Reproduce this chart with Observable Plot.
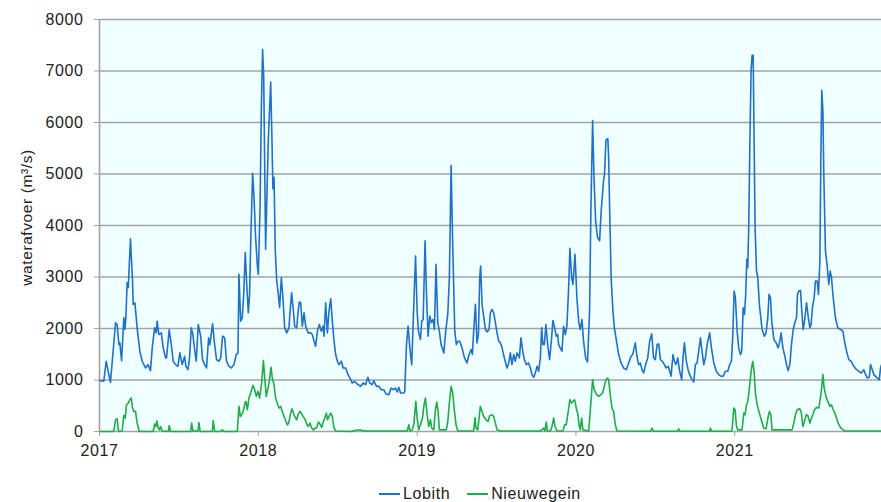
<!DOCTYPE html>
<html>
<head>
<meta charset="utf-8">
<script src="https://cdn.jsdelivr.net/npm/d3@7"></script>
<script src="https://cdn.jsdelivr.net/npm/@observablehq/plot@0.6"></script>
<style>
  html, body { margin: 0; padding: 0; background: #ffffff; }
  #wrap { position: relative; width: 881px; height: 502px; overflow: hidden; font-family: "Liberation Sans", Arial, sans-serif; }
  #legend { position: absolute; left: 379px; top: 484px; display: flex; align-items: center; font-size: 16px; letter-spacing: 0.6px; line-height: 20px; color: #222; white-space: nowrap; }
  #legend .sw { display: inline-block; width: 21px; height: 2px; }
  #legend .lb { margin-left: 3px; margin-right: 17px; }
  #chart svg text { letter-spacing: 0.6px; }
</style>
</head>
<body>
<div id="wrap"><div id="chart"></div><div id="legend"></div></div>
<script>
const seriesNames = ["Lobith", "Nieuwegein"];
const seriesColors = ["#1f72c6", "#20ac4a"];
const yearTicks = [2017, 2018, 2019, 2020, 2021];
const valueTicks = [0, 1000, 2000, 3000, 4000, 5000, 6000, 7000, 8000];
const yLabel = "waterafvoer (m³/s)";
const xEnd = 2021.924;

// [decimal year, m3/s]
const lobith = [
[2017.000,990],[2017.027,975],[2017.042,1364],[2017.069,955],[2017.101,2111],[2017.111,2078],[2017.122,1688],[2017.128,1721],[2017.139,1377],[2017.153,2208],[2017.160,1980],[2017.166,2208],[2017.174,2890],[2017.181,2792],[2017.195,3740],[2017.208,2922],[2017.212,2468],[2017.223,2500],[2017.237,2013],[2017.254,1559],[2017.269,1364],[2017.290,1234],[2017.305,1299],[2017.321,1182],[2017.332,1624],[2017.347,2013],[2017.357,1916],[2017.363,2143],[2017.374,1883],[2017.389,1916],[2017.401,1624],[2017.416,1429],[2017.422,1429],[2017.439,1980],[2017.452,1688],[2017.464,1364],[2017.479,1299],[2017.494,1266],[2017.506,1526],[2017.521,1299],[2017.536,1461],[2017.544,1266],[2017.557,1201],[2017.567,1429],[2017.578,2013],[2017.588,1883],[2017.599,1591],[2017.609,1364],[2017.622,2078],[2017.637,1851],[2017.649,1396],[2017.662,1299],[2017.674,1234],[2017.687,1818],[2017.695,1688],[2017.712,2091],[2017.725,1688],[2017.737,1396],[2017.752,1364],[2017.763,1429],[2017.775,1851],[2017.788,1818],[2017.800,1364],[2017.815,1266],[2017.830,1234],[2017.847,1299],[2017.861,1494],[2017.872,1526],[2017.878,3052],[2017.889,2143],[2017.899,2208],[2017.908,2663],[2017.918,3474],[2017.926,2922],[2017.937,2305],[2017.945,2663],[2017.952,3637],[2017.964,5013],[2017.973,4546],[2017.983,3767],[2017.994,3215],[2018.000,3052],[2018.011,4351],[2018.019,6234],[2018.027,7416],[2018.034,6883],[2018.046,3539],[2018.057,4935],[2018.063,5650],[2018.078,6786],[2018.086,5650],[2018.092,4708],[2018.099,4935],[2018.107,3507],[2018.116,2922],[2018.126,2663],[2018.134,2403],[2018.145,2987],[2018.155,2598],[2018.166,2013],[2018.179,1916],[2018.193,2013],[2018.200,2338],[2018.210,2695],[2018.221,2338],[2018.229,2046],[2018.242,2013],[2018.250,2305],[2018.258,2513],[2018.267,2500],[2018.277,2046],[2018.288,2305],[2018.298,2046],[2018.313,1916],[2018.330,1916],[2018.340,1883],[2018.351,1753],[2018.361,1656],[2018.372,1948],[2018.384,2078],[2018.397,1948],[2018.408,2046],[2018.414,1851],[2018.424,2500],[2018.435,1916],[2018.445,2338],[2018.456,2578],[2018.466,2143],[2018.477,1753],[2018.487,1494],[2018.498,1364],[2018.508,1299],[2018.523,1364],[2018.534,1234],[2018.550,1234],[2018.565,1104],[2018.582,1007],
[2018.591,942],[2018.606,974],[2018.623,922],[2018.644,877],[2018.660,942],[2018.675,909],[2018.690,1052],[2018.702,942],[2018.717,909],[2018.727,987],[2018.744,877],[2018.759,877],[2018.774,812],[2018.790,812],[2018.805,727],[2018.822,714],[2018.836,844],[2018.849,812],[2018.864,844],[2018.874,766],[2018.885,857],[2018.895,747],[2018.916,747],[2018.922,779],[2018.933,1688],[2018.943,2045],[2018.954,1624],[2018.966,1299],[2018.979,2468],[2018.990,3409],[2019.000,2338],[2019.008,1948],[2019.021,1786],[2019.029,2143],[2019.038,2175],[2019.050,3702],[2019.059,2663],[2019.069,1851],[2019.080,2240],[2019.090,2111],[2019.101,2175],[2019.109,1980],[2019.119,3247],[2019.130,2111],[2019.140,1948],[2019.151,1688],[2019.168,1526],[2019.180,1948],[2019.193,2273],[2019.203,2987],[2019.214,5163],[2019.224,3637],[2019.237,1948],[2019.247,1688],[2019.256,1753],[2019.268,1753],[2019.283,1624],[2019.298,1429],[2019.314,1331],[2019.327,1494],[2019.340,1591],[2019.348,1494],[2019.356,1948],[2019.367,2468],[2019.377,1721],[2019.386,1883],[2019.394,2987],[2019.400,3215],[2019.409,2468],[2019.419,2240],[2019.430,1980],[2019.440,1935],[2019.453,1980],[2019.461,2305],[2019.472,2370],[2019.482,2305],[2019.493,2111],[2019.503,1916],[2019.514,1753],[2019.524,1721],[2019.535,1624],[2019.549,1429],[2019.566,1234],[2019.577,1331],[2019.587,1526],[2019.597,1299],[2019.608,1494],[2019.618,1364],[2019.629,1526],[2019.644,1429],[2019.654,1818],[2019.665,1559],[2019.675,1396],[2019.688,1299],[2019.702,1331],[2019.713,1234],[2019.723,1104],[2019.734,1052],[2019.744,1136],[2019.755,1266],[2019.765,1169],[2019.776,1429],[2019.784,2013],[2019.792,1688],[2019.801,1688],[2019.811,2078],[2019.822,1688],[2019.834,1396],[2019.845,1753],[2019.855,2156],[2019.866,2013],[2019.876,1851],[2019.885,1883],[2019.891,1688],[2019.901,1624],[2019.912,1559],[2019.922,2045],[2019.933,1883],[2019.943,2045],[2019.954,2792],[2019.962,3559],[2019.973,2987],[2019.981,2857],[2019.994,3442],[2020.006,2598],[2020.017,2143],[2020.027,1980],[2020.038,2175],[2020.048,1753],[2020.061,1429],[2020.073,1351],[2020.086,2338],[2020.094,4286],[2020.105,6039],[2020.115,4806],[2020.124,4091],[2020.136,3767],[2020.149,3702],[2020.159,4286],[2020.174,4871],[2020.180,5000],[2020.189,5650],[2020.195,5682],[2020.201,5682],[2020.206,5300],[2020.212,4351],[2020.222,2950],
[2020.233,2338],[2020.242,2013],[2020.254,1786],[2020.269,1494],[2020.284,1331],[2020.300,1234],[2020.317,1201],[2020.332,1331],[2020.347,1461],[2020.357,1494],[2020.374,1721],[2020.384,1461],[2020.395,1299],[2020.405,1331],[2020.416,1201],[2020.426,1136],[2020.439,1299],[2020.452,1429],[2020.464,1753],[2020.477,1896],[2020.489,1429],[2020.500,1396],[2020.511,1688],[2020.521,1701],[2020.532,1396],[2020.544,1364],[2020.557,1299],[2020.567,1234],[2020.580,1266],[2020.588,1201],[2020.599,1072],[2020.611,1494],[2020.620,1364],[2020.630,1299],[2020.641,1429],[2020.653,1169],[2020.666,1007],[2020.674,1429],[2020.683,1721],[2020.695,1364],[2020.706,1201],[2020.716,1104],[2020.731,1007],[2020.742,961],[2020.752,1299],[2020.763,1331],[2020.773,1559],[2020.784,1818],[2020.794,1559],[2020.805,1299],[2020.815,1429],[2020.826,1688],[2020.842,1916],[2020.853,1624],[2020.868,1331],[2020.884,1169],[2020.899,1104],[2020.914,1072],[2020.926,1072],[2020.941,1169],[2020.956,1169],[2020.968,1299],[2020.979,1364],[2020.987,1818],[2020.996,2727],[2021.004,2598],[2021.015,1948],[2021.025,1624],[2021.036,1494],[2021.044,1559],[2021.053,2403],[2021.061,2273],[2021.069,2663],[2021.076,3344],[2021.082,3182],[2021.088,3961],[2021.095,5585],[2021.103,7014],[2021.109,7306],[2021.116,7306],[2021.122,5585],[2021.128,3961],[2021.137,3117],[2021.145,2987],[2021.155,2468],[2021.172,1980],[2021.187,1851],[2021.197,1916],[2021.208,2208],[2021.216,2663],[2021.225,2598],[2021.233,2143],[2021.246,1786],[2021.261,1721],[2021.273,1624],[2021.284,1753],[2021.292,1916],[2021.303,1624],[2021.313,1494],[2021.326,1299],[2021.336,1182],[2021.347,1299],[2021.357,1688],[2021.368,1980],[2021.378,2111],[2021.389,2208],[2021.395,2663],[2021.403,2727],[2021.414,2740],[2021.422,2338],[2021.431,1980],[2021.439,2143],[2021.452,2500],[2021.462,2240],[2021.473,2013],[2021.481,2078],[2021.489,2403],[2021.500,2598],[2021.508,2922],[2021.519,2922],[2021.527,2663],[2021.536,3312],[2021.542,5260],[2021.548,6624],[2021.555,6234],[2021.561,4935],[2021.571,3507],[2021.582,3215],[2021.592,2857],[2021.601,3117],[2021.609,2987],[2021.620,2598],[2021.634,2208],[2021.649,2013],[2021.666,1980],[2021.681,1948],[2021.691,1753],[2021.704,1559],[2021.718,1396],[2021.733,1364],[2021.750,1266],[2021.767,1201],[2021.782,1169],[2021.796,1136],[2021.813,1201],[2021.824,1104],[2021.834,1039],[2021.847,1052],[2021.855,1299],[2021.866,1201],[2021.876,1104],[2021.893,1052],[2021.910,1007],[2021.918,1234],[2021.924,1299]
];

const nieuwegein = [
[2017.000,0],[2017.090,0],[2017.101,227],[2017.111,247],[2017.120,0],[2017.143,10],[2017.153,312],[2017.162,260],[2017.170,520],[2017.181,552],[2017.191,617],[2017.200,650],[2017.208,455],[2017.216,390],[2017.227,390],[2017.237,162],[2017.250,0],[2017.338,0],[2017.347,143],[2017.355,97],[2017.361,208],[2017.370,65],[2017.378,32],[2017.384,97],[2017.395,10],[2017.433,0],[2017.439,117],[2017.447,0],[2017.574,0],[2017.580,162],[2017.588,10],[2017.620,10],[2017.626,175],[2017.634,0],[2017.710,0],[2017.716,214],[2017.725,0],[2017.763,0],[2017.773,32],[2017.784,0],[2017.868,0],[2017.878,487],[2017.887,292],[2017.895,325],[2017.905,390],[2017.916,552],[2017.922,584],[2017.931,422],[2017.941,650],[2017.952,747],[2017.966,896],[2017.977,812],[2017.987,682],[2017.998,779],[2018.008,650],[2018.021,942],[2018.032,1377],[2018.042,974],[2018.050,682],[2018.061,844],[2018.069,974],[2018.080,1247],[2018.088,1039],[2018.099,909],[2018.109,650],[2018.122,520],[2018.132,455],[2018.141,487],[2018.151,390],[2018.162,292],[2018.172,208],[2018.183,130],[2018.191,162],[2018.204,357],[2018.212,442],[2018.221,357],[2018.229,292],[2018.242,227],[2018.250,325],[2018.261,390],[2018.271,357],[2018.282,292],[2018.292,247],[2018.303,162],[2018.313,97],[2018.326,162],[2018.334,78],[2018.347,32],[2018.359,65],[2018.368,78],[2018.378,182],[2018.389,143],[2018.399,78],[2018.410,195],[2018.418,260],[2018.429,357],[2018.435,227],[2018.445,292],[2018.456,357],[2018.466,292],[2018.477,65],[2018.487,10],[2018.582,0],[2018.623,30],[2018.644,30],[2018.665,10],[2018.937,10],[2018.948,130],[2018.954,10],[2018.969,32],[2018.979,130],[2018.992,584],[2019.000,260],[2019.010,32],[2019.021,130],[2019.034,260],[2019.042,487],[2019.052,650],[2019.063,325],[2019.073,97],[2019.084,227],[2019.092,65],[2019.105,32],[2019.115,422],[2019.124,572],[2019.132,390],[2019.140,32],[2019.184,32],[2019.193,195],[2019.203,552],[2019.214,877],[2019.224,747],[2019.235,390],[2019.245,130],[2019.256,10],[2019.356,10],[2019.365,273],[2019.371,65],[2019.382,32],[2019.390,260],[2019.398,487],[2019.409,390],[2019.419,292],[2019.434,227],[2019.447,195],[2019.457,305],[2019.472,325],[2019.482,292],[2019.493,162],[2019.503,32],[2019.524,10],[2019.776,10],[2019.786,32],[2019.797,65],[2019.805,10],[2019.813,182],[2019.820,10],[2019.840,10],[2019.849,97],[2019.860,260],[2019.868,97],[2019.881,10],[2019.918,10],[2019.929,130],[2019.939,130],[2019.950,357],[2019.962,617],[2019.973,552],[2019.981,584],[2019.992,617],[2020.002,455],[2020.013,325],[2020.021,97],[2020.027,32],[2020.036,260],[2020.044,32],[2020.080,10],[2020.090,390],[2020.105,1007],[2020.115,812],[2020.128,727],[2020.143,682],[2020.157,714],[2020.168,747],[2020.178,877],[2020.189,1007],[2020.199,1039],[2020.206,1007],[2020.216,714],[2020.227,455],[2020.237,390],[2020.248,130],[2020.258,10],[2020.470,5],[2020.479,65],[2020.488,5],[2020.640,5],[2020.647,52],[2020.654,5],[2020.840,5],[2020.847,65],[2020.854,5],[2020.978,5],[2020.983,32],[2020.994,455],[2021.002,422],[2021.011,97],[2021.019,32],[2021.046,32],[2021.057,357],[2021.065,325],[2021.074,520],[2021.082,584],[2021.090,779],[2021.103,1169],[2021.113,1364],[2021.122,1169],[2021.130,747],[2021.141,520],[2021.155,357],[2021.170,195],[2021.183,65],[2021.197,52],[2021.208,247],[2021.218,390],[2021.227,325],[2021.235,32],[2021.361,32],[2021.372,162],[2021.382,325],[2021.393,422],[2021.408,442],[2021.418,390],[2021.429,97],[2021.439,195],[2021.450,325],[2021.460,312],[2021.473,162],[2021.483,260],[2021.492,325],[2021.502,422],[2021.515,468],[2021.529,455],[2021.536,584],[2021.546,812],[2021.555,1104],[2021.563,844],[2021.574,682],[2021.586,584],[2021.599,487],[2021.609,520],[2021.620,422],[2021.630,357],[2021.641,260],[2021.651,162],[2021.662,97],[2021.670,65],[2021.691,10],[2021.924,10]
];

const gridColor = "#a3a3a3";
const chart = Plot.plot({
  width: 881,
  height: 470,
  marginLeft: 99,
  marginRight: 0,
  marginTop: 19,
  marginBottom: 39,
  style: { fontFamily: "'Liberation Sans', Arial, sans-serif", fontSize: "16px", color: "#222", background: "transparent", overflow: "visible" },
  x: { type: "linear", domain: [2017, xEnd] },
  y: { domain: [0, 8000] },
  marks: [
    Plot.frame({ fill: "#f0ffff", stroke: null }),
    Plot.gridY(valueTicks, { stroke: gridColor, strokeOpacity: 1, strokeWidth: 1.4 }),
    Plot.ruleX([2017], { stroke: gridColor, strokeWidth: 1.6 }),
    Plot.line(nieuwegein, { x: d => d[0], y: d => d[1], stroke: seriesColors[1], strokeWidth: 1.6 }),
    Plot.line(lobith, { x: d => d[0], y: d => d[1], stroke: seriesColors[0], strokeWidth: 1.6 }),
    Plot.axisY(valueTicks, { tickFormat: "d", tickSize: 5, tickPadding: 11, stroke: gridColor, label: null, fill: "#222", fontSize: 16 }),
    Plot.axisX(yearTicks, { tickFormat: "d", tickSize: 5, tickPadding: 8, stroke: gridColor, label: null, fill: "#222", fontSize: 16 }),
    Plot.text([yLabel], { text: d => d, frameAnchor: "left", dx: -72, dy: -8, rotate: -90, textAnchor: "middle", fontSize: 15.5, fill: "#222" })
  ]
});
document.getElementById("chart").appendChild(chart);

const legend = document.getElementById("legend");
seriesNames.forEach((name, i) => {
  const sw = document.createElement("span");
  sw.className = "sw";
  sw.style.background = seriesColors[i];
  const lb = document.createElement("span");
  lb.className = "lb";
  lb.textContent = name;
  legend.appendChild(sw);
  legend.appendChild(lb);
});
</script>
</body>
</html>
